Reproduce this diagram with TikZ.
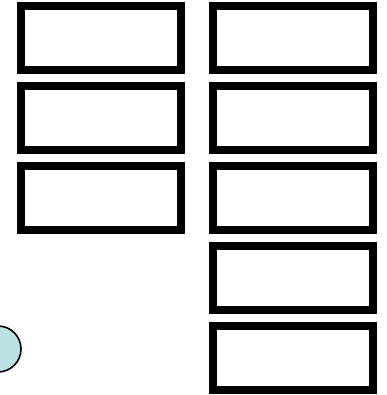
\documentclass[tikz,border=0pt]{standalone}
\definecolor{circfill}{RGB}{186,226,229}
\begin{document}
\begin{tikzpicture}[x=1pt,y=-1pt,
  box/.style={draw=black,line width=8pt,fill=white,minimum width=160pt,minimum height=64pt,inner sep=0pt,outer sep=0pt},
  circ/.style={circle,draw=black,line width=1.6pt,fill=circfill,minimum size=46pt,inner sep=0pt}]
\useasboundingbox (0,0) rectangle (386,395);
\node[box] (l1) at (101,38) {};
\node[box] (l2) at (101,118) {};
\node[box] (l3) at (101,198) {};
\node[box] (r1) at (293,38) {};
\node[box] (r2) at (293,118) {};
\node[box] (r3) at (293,198) {};
\node[box] (r4) at (293,278) {};
\node[box] (r5) at (293,358) {};
\node[circ] (c) at (-2,349) {};
\end{tikzpicture}
\end{document}
